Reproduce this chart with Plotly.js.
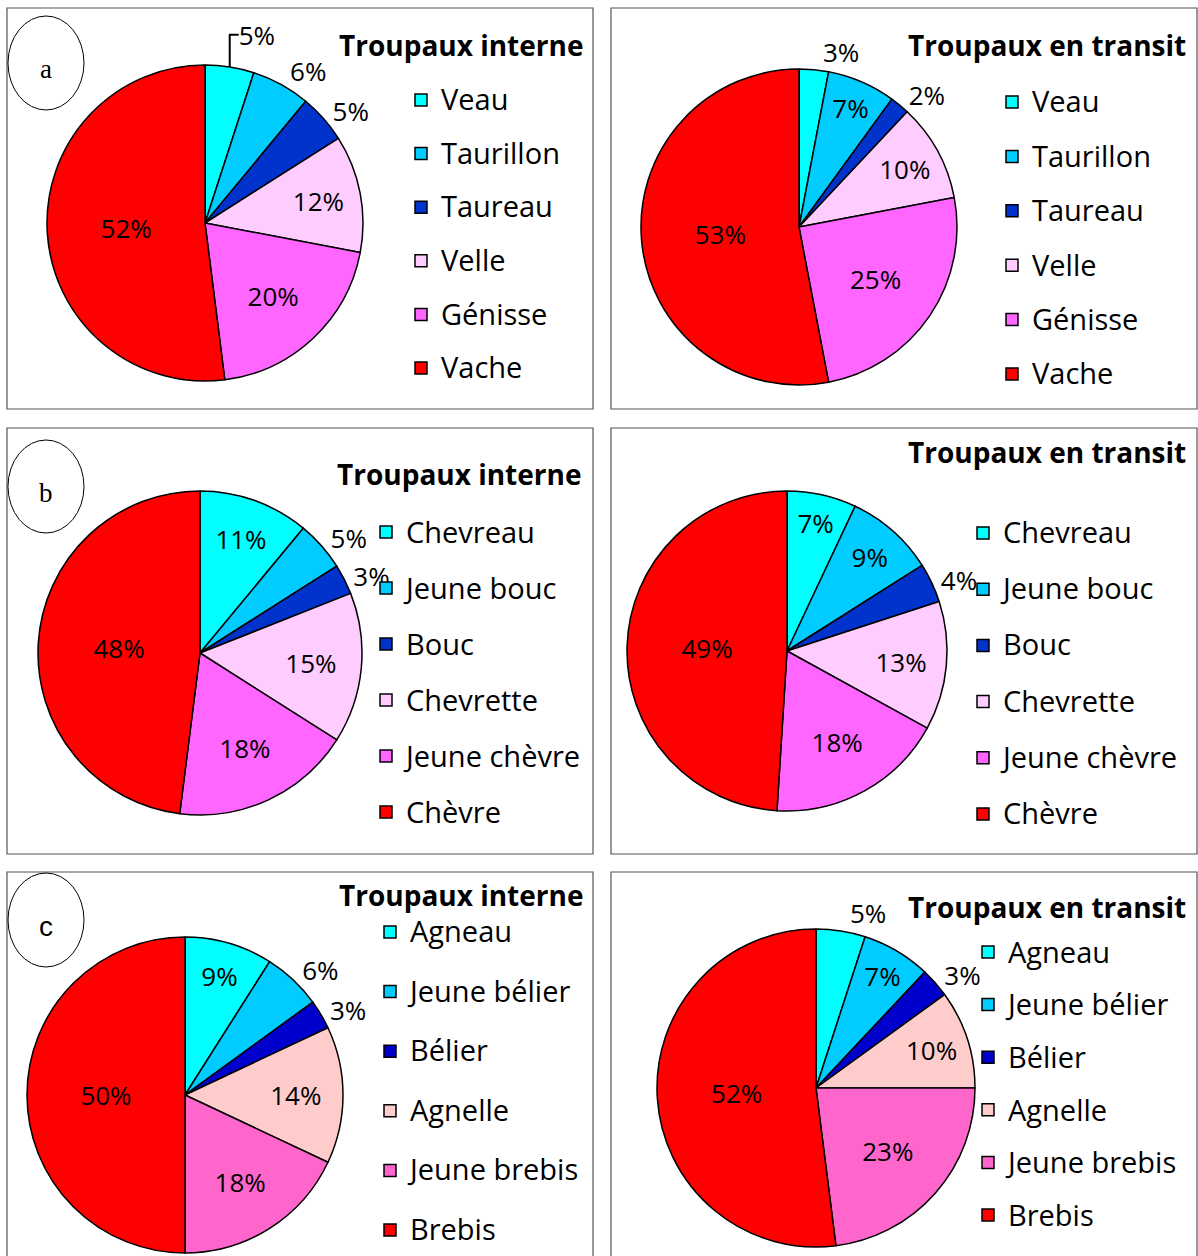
<!DOCTYPE html>
<html>
<head>
<meta charset="utf-8">
<script src="https://cdn.plot.ly/plotly-3.0.1.min.js"></script>
<style>html,body{margin:0;padding:0;background:#fff;}#chart{width:1198px;height:1256px;}</style>
</head>
<body>
<div id="chart"></div>
<script>
// ---- data ----
const cattleLabels = ['Veau', 'Taurillon', 'Taureau', 'Velle', 'Génisse', 'Vache'];
const goatLabels = ['Chevreau', 'Jeune bouc', 'Bouc', 'Chevrette', 'Jeune chèvre', 'Chèvre'];
const sheepLabels = ['Agneau', 'Jeune bélier', 'Bélier', 'Agnelle', 'Jeune brebis', 'Brebis'];

const cattleInterne = [5, 6, 5, 12, 20, 52];
const cattleTransit = [3, 7, 2, 10, 25, 53];
const goatInterne = [11, 5, 3, 15, 18, 48];
const goatTransit = [7, 9, 4, 13, 18, 49];
const sheepInterne = [9, 6, 3, 14, 18, 50];
const sheepTransit = [5, 7, 3, 10, 23, 52];

const titleInterne = 'Troupaux interne';
const titleTransit = 'Troupaux en transit';
const panelLetters = ['a', 'b', 'c'];

// ---- styles ----
const cattleColors = ['#00FFFF', '#00CCFF', '#0033CC', '#FFCCFF', '#FF66FF', '#FF0000'];
const goatColors = ['#00FFFF', '#00CCFF', '#0033CC', '#FFCCFF', '#FF66FF', '#FF0000'];
const sheepColors = ['#00FFFF', '#00CCFF', '#0000CC', '#FFCCCC', '#FF66CC', '#FF0000'];

const W = 1198, H = 1256;
const px = x => x / W;
const py = y => 1 - y / H;
const FONT = 'Open Sans, Noto Sans, sans-serif';
const LEG_TXT = 29;   // visible legend text size
const LBL_FS = 26;    // percent labels

function pieDomain(cx, cy, r) {
  return { x: [px(cx - r), px(cx + r)], y: [py(cy + r), py(cy - r)] };
}

const I = 'inside', O = 'outside';
const panels = [
  { labels: cattleLabels, values: cattleInterne, colors: cattleColors, c: [205, 223, 158], pos: [O, O, O, I, I, I], leg: [421, 100, 53.6], title: titleInterne, tpos: [585, 45] },
  { labels: cattleLabels, values: cattleTransit, colors: cattleColors, c: [799, 227, 158], pos: [O, I, O, I, I, I], leg: [1012, 102, 54.4], title: titleTransit, tpos: [1188, 45] },
  { labels: goatLabels, values: goatInterne, colors: goatColors, c: [200, 653, 162], pos: [I, O, O, I, I, I], leg: [386, 532, 56], title: titleInterne, tpos: [583, 474] },
  { labels: goatLabels, values: goatTransit, colors: goatColors, c: [787, 651, 160], pos: [I, I, O, I, I, I], leg: [983, 533, 56.2], title: titleTransit, tpos: [1188, 452] },
  { labels: sheepLabels, values: sheepInterne, colors: sheepColors, c: [185, 1095, 158], pos: [I, O, O, I, I, I], leg: [390, 932, 59.6], title: titleInterne, tpos: [585, 895] },
  { labels: sheepLabels, values: sheepTransit, colors: sheepColors, c: [816, 1088, 159], pos: [O, I, O, I, I, I], leg: [988, 952, 52.6], title: titleTransit, tpos: [1188, 907] }
];

const traces = [];
const layout = {
  width: W, height: H,
  margin: { l: 0, r: 0, t: 0, b: 0, autoexpand: false },
  paper_bgcolor: '#ffffff',
  showlegend: true,
  font: { family: FONT, color: '#000' },
  shapes: [],
  annotations: []
};

panels.forEach((p, i) => {
  const legId = i === 0 ? 'legend' : 'legend' + (i + 1);
  // legend row pitch = fontSize*1.3 + 3 in Plotly; choose legend font so pitch matches
  const legFs = (p.leg[2] - 3) / 1.3;
  const lh = legFs * 1.3;
  const shift = 0.3 * lh - 0.357 * LEG_TXT;
  traces.push({
    type: 'pie',
    labels: p.labels.map(l => '<span style="font-size:' + LEG_TXT + 'px;baseline-shift:' + shift.toFixed(1) + 'px">' + l + '</span>'),
    values: p.values,
    sort: false,
    direction: 'clockwise',
    rotation: 0,
    domain: pieDomain(p.c[0], p.c[1], p.c[2]),
    marker: { colors: p.colors, line: { color: '#000', width: 1.5 } },
    texttemplate: '%{value}%',
    textposition: p.pos,
    insidetextorientation: 'horizontal',
    textfont: { family: FONT, size: LBL_FS, color: '#000' },
    outsidetextfont: { family: FONT, size: LBL_FS, color: '#000' },
    insidetextfont: { family: FONT, size: LBL_FS, color: '#000' },
    hoverinfo: 'percent',
    legend: legId,
    legendgroup: 'g' + i,
    showlegend: true
  });
  const h = lh + 3;
  layout[legId] = {
    x: px(p.leg[0] - 20), xanchor: 'left',
    y: py(p.leg[1] - h / 2 - 5), yanchor: 'top',
    bgcolor: 'rgba(0,0,0,0)',
    borderwidth: 0,
    font: { family: FONT, size: legFs, color: '#000' }
  };
  layout.annotations.push({
    xref: 'paper', yref: 'paper',
    x: px(p.tpos[0]), y: py(p.tpos[1]),
    xanchor: 'right', yanchor: 'middle',
    text: '<b>' + p.title + '</b>',
    showarrow: false,
    font: { family: FONT, size: 28, color: '#000' }
  });
});

// panel frames
const rows = [[8, 409], [428, 854], [872, 1275]];
rows.forEach(r => {
  [[7, 593], [611, 1197]].forEach(c => {
    layout.shapes.push({
      type: 'rect', xref: 'paper', yref: 'paper',
      x0: px(c[0]), x1: px(c[1]), y0: py(r[1]), y1: py(r[0]),
      line: { color: '#555555', width: 1.2 }, fillcolor: 'rgba(0,0,0,0)', layer: 'below'
    });
  });
});

// panel letter ellipses
const ellipses = [[16, 110], [440, 533], [873, 967]];
ellipses.forEach((e, i) => {
  layout.shapes.push({
    type: 'circle', xref: 'paper', yref: 'paper',
    x0: px(8), x1: px(84), y0: py(e[1]), y1: py(e[0]),
    line: { color: '#000', width: 1 }, fillcolor: 'rgba(255,255,255,0)'
  });
  layout.annotations.push({
    xref: 'paper', yref: 'paper', x: px(46), y: py((e[0] + e[1]) / 2 + 6),
    xanchor: 'center', yanchor: 'middle', showarrow: false,
    text: panelLetters[i],
    font: { family: i === 2 ? 'Liberation Sans, sans-serif' : 'Liberation Serif, serif', size: i === 2 ? 28 : 27, color: '#000' }
  });
});

Plotly.newPlot('chart', traces, layout, { displayModeBar: false, staticPlot: true });
</script>
</body>
</html>
